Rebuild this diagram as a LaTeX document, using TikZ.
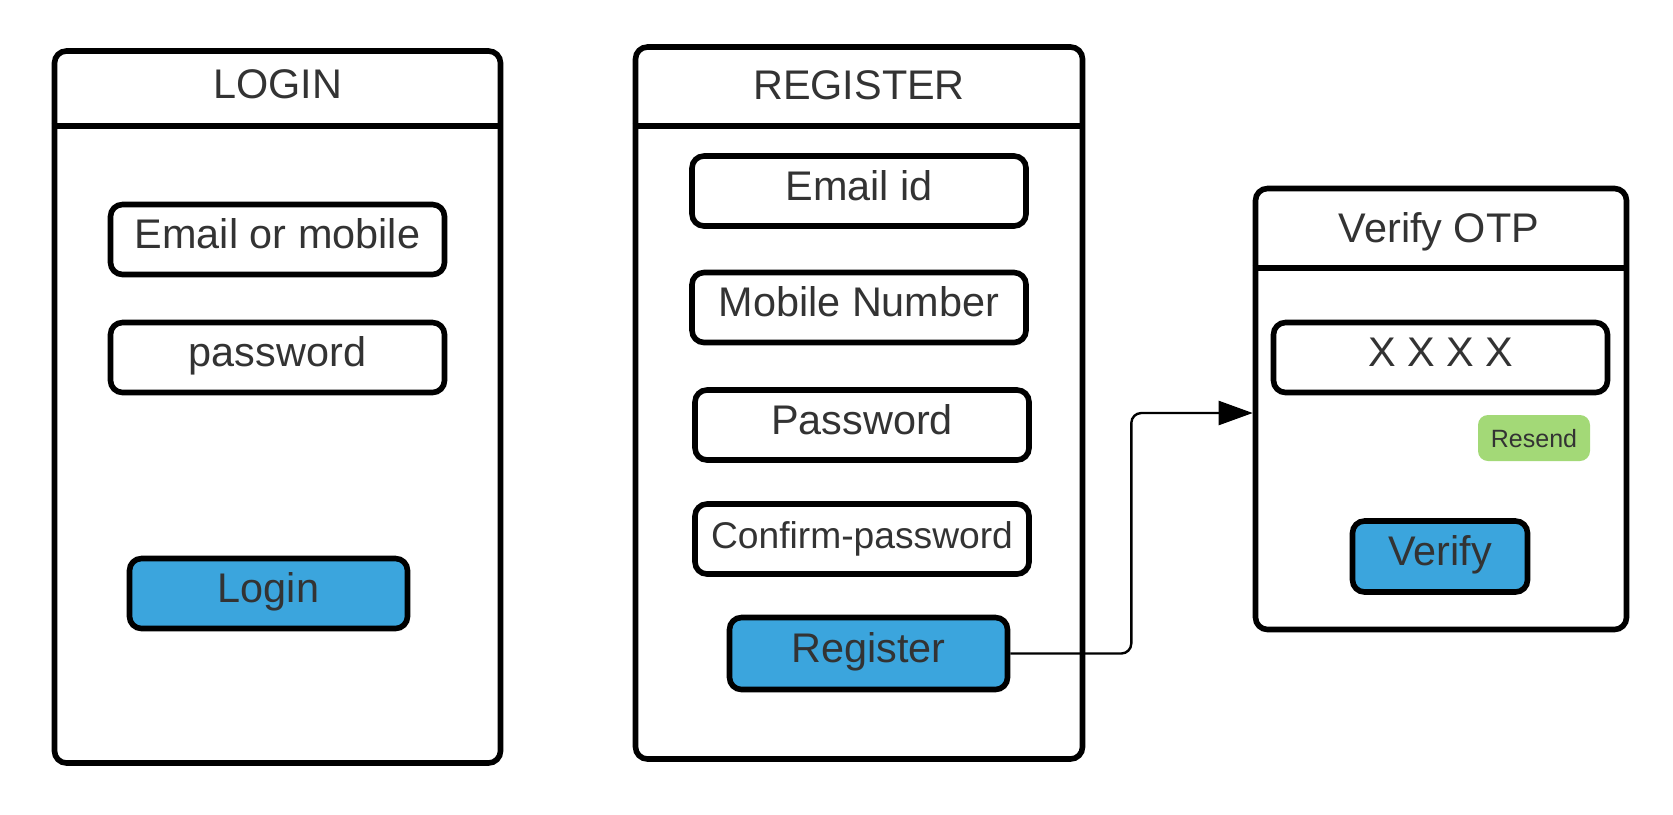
\documentclass[tikz,border=0pt]{standalone}
\usepackage{fontspec}
\setmainfont{Liberation Sans}
\usetikzlibrary{arrows.meta}

\definecolor{btnblue}{HTML}{3BA5DD}
\definecolor{resendgreen}{HTML}{A3D977}
\definecolor{txtgray}{HTML}{333333}

\tikzset{every picture/.style={line width=2.8pt}}
\tikzset{
  panel/.style={draw, rounded corners=6pt, line width=2.8pt, inner sep=0pt},
  paneltitle/.style={text=txtgray, font=\fontsize{20.7}{24}\selectfont, text height=14pt, text depth=5pt, inner sep=0pt},
  field/.style={draw, rounded corners=6pt, line width=2.8pt, minimum width=167pt, minimum height=35pt, inner sep=0pt, text=txtgray, font=\fontsize{20.7}{24}\selectfont, text height=14pt, text depth=5pt},
  button/.style={field, fill=btnblue, minimum width=139pt},
  flow/.style={line width=1.2pt, rounded corners=5pt, -{Triangle[length=17pt,width=12pt]}},
}

\begin{document}
\begin{tikzpicture}[x=0.5pt,y=-0.5pt]
	\useasboundingbox (0,0) rectangle (1673,814);

	%Shape: Panel LOGIN
	\node [panel, minimum width=223pt, minimum height=356pt] (loginpanel) at (277.5,407) {};
	\draw [line width=3.2pt] (loginpanel.west |- 0,126) -- (loginpanel.east |- 0,126) ;
	% Text Node
	\node [paneltitle] (logintitle) at (277.5,89) {LOGIN};
	%Shape: Fields
	\node [field] (loginmail) at (277.5,239.5) {Email or mobile};
	\node [field] (loginpass) at (277.5,357.5) {password};
	%Shape: Button
	\node [button] (loginbtn) at (268.5,593.5) {Login};

	%Shape: Panel REGISTER
	\node [panel, minimum width=223.5pt, minimum height=356pt] (regpanel) at (859,403) {};
	\draw [line width=3.2pt] (regpanel.west |- 0,126) -- (regpanel.east |- 0,126) ;
	% Text Node
	\node [paneltitle] (regtitle) at (859,90) {REGISTER};
	%Shape: Fields
	\node [field] (regmail) at (859,191) {Email id};
	\node [field] (regmobile) at (859,307.5) {Mobile Number};
	\node [field] (regpass) at (862,425) {Password};
	\node [field, font=\fontsize{18.6}{22}\selectfont] (regconfirm) at (862,539) {Confirm-password};
	%Shape: Button
	\node [button, minimum height=36pt] (register) at (868.5,653.5) {Register};

	%Shape: Panel Verify OTP
	\node [panel, minimum width=185.5pt, minimum height=220.5pt] (otp) at (1441,409) {};
	\draw [line width=3.2pt] (otp.west |- 0,268) -- (otp.east |- 0,268) ;
	% Text Node
	\node [paneltitle] (otptitle) at (1439,233) {Verify OTP};
	%Shape: Fields
	\node [field] (otpcode) at (1440.5,357.5) {X X X X};
	\node [fill=resendgreen, rounded corners=5pt, minimum width=56pt, minimum height=23pt, inner sep=0pt, text=txtgray, font=\fontsize{12.5}{14}\selectfont, text height=9pt, text depth=0pt] (resend) at (1534,438) {Resend};
	%Shape: Button
	\node [button, minimum width=87.5pt, minimum height=35.5pt] (verify) at (1440,556.5) {Verify};

	%Straight Lines
	\draw [flow] (register.east) -- ++(121,0) |- ([yshift=-2pt]otp.west) ;

\end{tikzpicture}
\end{document}
